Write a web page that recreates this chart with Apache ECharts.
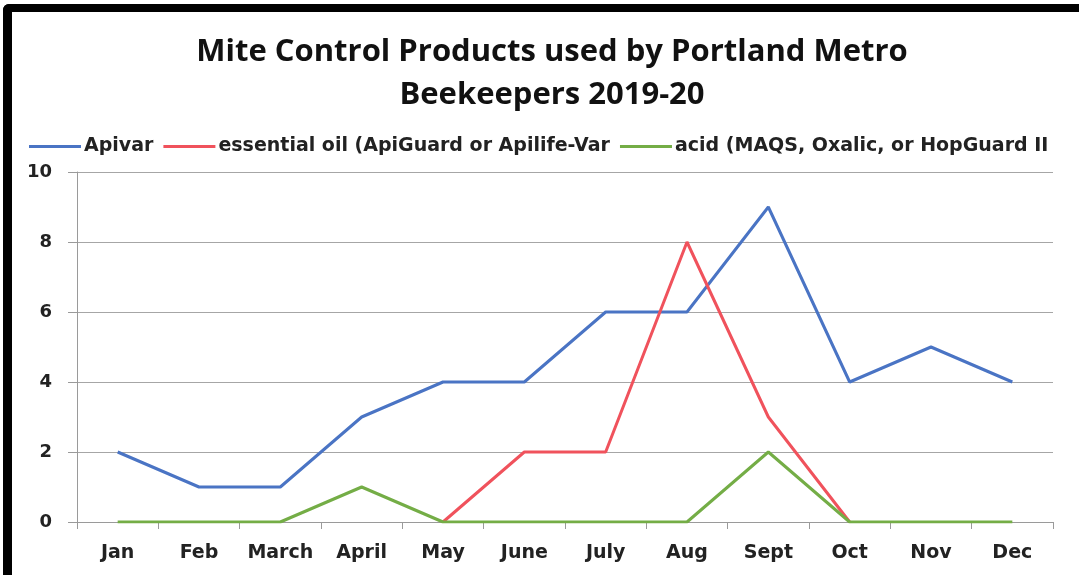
<!DOCTYPE html>
<html>
<head>
<meta charset="utf-8">
<script src="https://cdn.jsdelivr.net/npm/echarts@6/dist/echarts.min.js"></script>
<style>
html,body{margin:0;padding:0;background:#fff;}
#chart{width:1079px;height:575px;}
</style>
</head>
<body>
<div id="chart"></div>
<script>
const titleText = "Mite Control Products used by Portland Metro\nBeekeepers 2019-20";
const months = ["Jan","Feb","March","April","May","June","July","Aug","Sept","Oct","Nov","Dec"];
const seriesNames = ["Apivar","essential oil (ApiGuard or Apilife-Var","acid (MAQS, Oxalic, or HopGuard II"];
const apivar = [2,1,1,3,4,4,6,6,9,4,5,4];
const essentialOil = [null,null,null,null,0,2,2,8,3,0,null,null];
const acid = [0,0,0,1,0,0,0,0,2,0,0,0];
const yTicks = [0,2,4,6,8,10];

const chart = echarts.init(document.getElementById('chart'), null, {renderer:'canvas'});
const labelFont = {fontFamily:'DejaVu Sans', fontWeight:'bold', fontSize:18, color:'#222'};
const colors = ['#4a74c4','#f0525c','#74ad46'];
chart.setOption({
  animation:false,
  backgroundColor:'#fff',
  color: colors,
  title:{
    text:titleText,
    left:547, textAlign:'center', top:26,
    textStyle:{fontFamily:'Open Sans', fontWeight:'bold', fontSize:31, lineHeight:43, color:'#111'}
  },
  legend:{
    left:24, top:132,
    itemWidth:52, itemHeight:3, itemGap:10,
    icon:'rect',
    textStyle:Object.assign({}, labelFont, {fontSize:19, padding:[0,0,0,-2]}),
    data:seriesNames
  },
  graphic:[
    {type:'rect', shape:{x:3,y:4,width:1100,height:8,r:[6,0,0,0]}, style:{fill:'#000'}},
    {type:'rect', shape:{x:3,y:4,width:9,height:600,r:[6,0,0,0]}, style:{fill:'#000'}}
  ],
  grid:{left:77, right:26, top:172, bottom:53, containLabel:false},
  xAxis:{
    type:'category', data:months, boundaryGap:true,
    axisLine:{lineStyle:{color:'#9a9a9a', width:1}},
    axisTick:{show:true, length:7, interval:0, lineStyle:{color:'#9a9a9a'}},
    axisLabel:Object.assign({margin:22, interval:0}, labelFont, {fontSize:19})
  },
  yAxis:{
    type:'value', min:0, max:10, interval:2,
    axisLine:{show:true, lineStyle:{color:'#9a9a9a', width:1}},
    axisTick:{show:true, length:9, lineStyle:{color:'#9a9a9a'}},
    splitLine:{lineStyle:{color:'#a6a6a6', width:1}},
    axisLabel:Object.assign({margin:25, formatter:v=>yTicks.includes(v)?String(v):''}, labelFont)
  },
  series:[
    {name:seriesNames[0], type:'line', data:apivar, symbol:'none', lineStyle:{width:3, color:colors[0]}},
    {name:seriesNames[1], type:'line', data:essentialOil, symbol:'none', lineStyle:{width:3, color:colors[1]}},
    {name:seriesNames[2], type:'line', data:acid, symbol:'none', lineStyle:{width:3, color:colors[2]}}
  ]
});
</script>
</body>
</html>
